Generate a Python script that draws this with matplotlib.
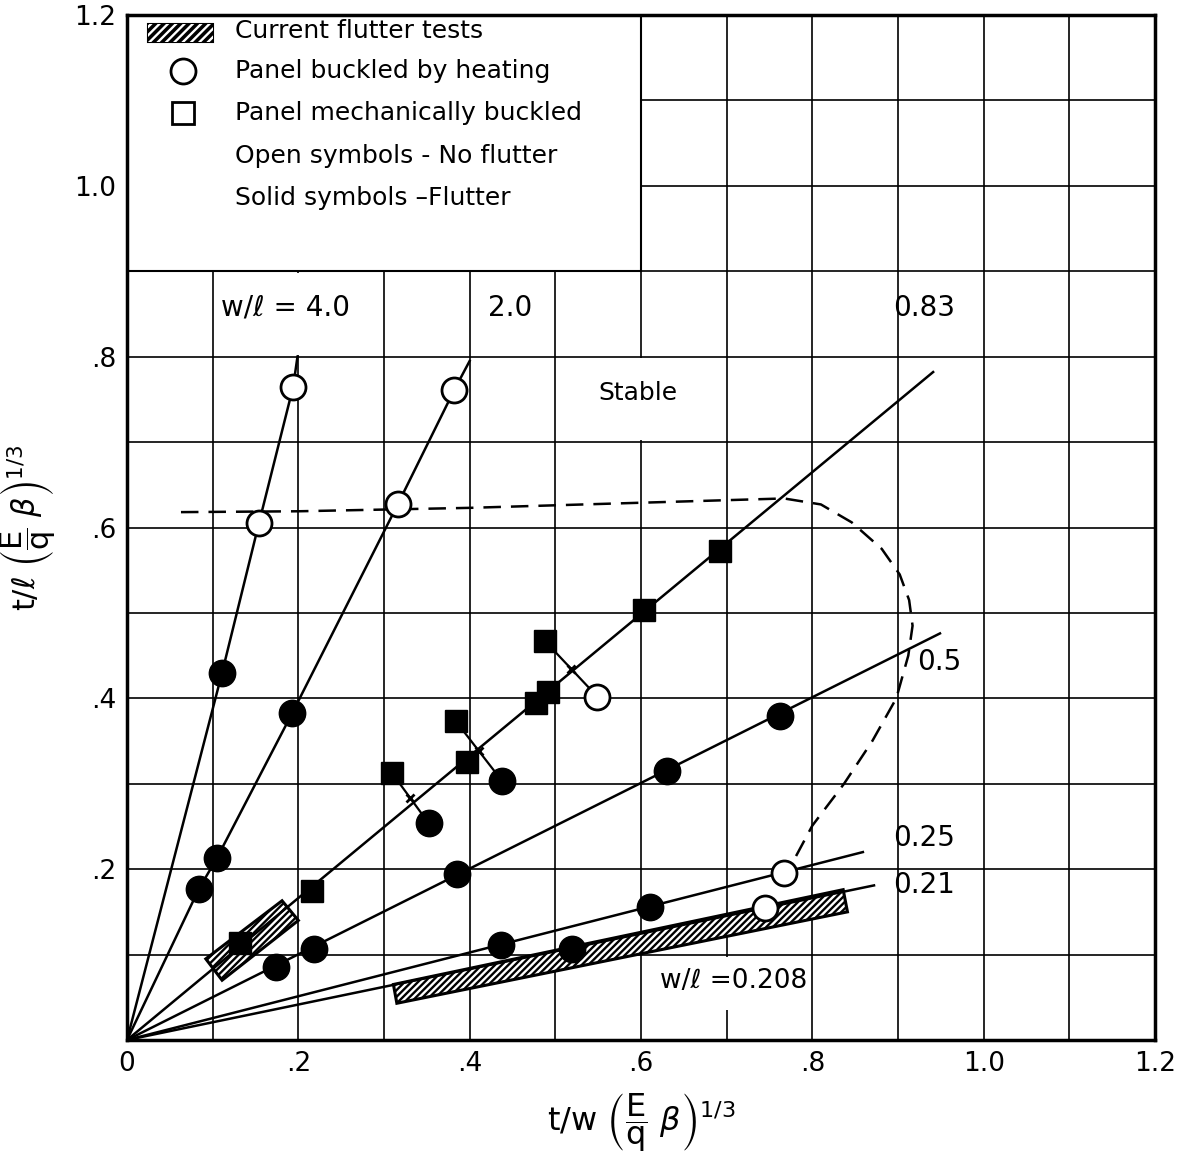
import numpy as np
import matplotlib
matplotlib.use("Agg")
import matplotlib.pyplot as plt
from matplotlib.patches import Polygon, Rectangle

plt.rcParams['font.family'] = ['DejaVu Sans']
plt.rcParams['mathtext.fontset'] = 'dejavusans'
plt.rcParams['hatch.linewidth'] = 1.7

# ---- data ----
# w/l = 4.0 and 2.0 curves (slightly curved, read as points)
curve40_x = [0.0, 0.111, 0.154, 0.194, 0.199]
curve40_y = [0.0, 0.430, 0.605, 0.765, 0.800]
curve20_x = [0.0, 0.084, 0.105, 0.193, 0.316, 0.382, 0.400]
curve20_y = [0.0, 0.177, 0.213, 0.383, 0.627, 0.761, 0.795]

# straight rays from the origin: end points
ray_names = ['0.83', '0.5', '0.25', '0.21']
ray_end_x = [0.941, 0.949, 0.859, 0.872]
ray_end_y = [0.782, 0.476, 0.220, 0.181]

# symbols
solid_circ_x = [0.111, 0.084, 0.105, 0.193, 0.174, 0.218, 0.385, 0.630, 0.762,
                0.436, 0.611, 0.520, 0.352, 0.438]
solid_circ_y = [0.430, 0.177, 0.213, 0.383, 0.086, 0.107, 0.194, 0.315, 0.379,
                0.111, 0.156, 0.106, 0.254, 0.303]
open_circ_x = [0.154, 0.194, 0.316, 0.382, 0.549, 0.767, 0.745]
open_circ_y = [0.605, 0.765, 0.627, 0.761, 0.402, 0.196, 0.155]
solid_sq_x = [0.132, 0.216, 0.397, 0.477, 0.491, 0.604, 0.692, 0.309, 0.384, 0.488]
solid_sq_y = [0.113, 0.175, 0.325, 0.395, 0.407, 0.504, 0.572, 0.313, 0.373, 0.467]

# mechanically buckled -> heated, connectors
conn_from_x = [0.309, 0.384, 0.488]
conn_from_y = [0.313, 0.373, 0.467]
conn_to_x = [0.352, 0.438, 0.549]
conn_to_y = [0.254, 0.303, 0.402]

# stability boundary (dashed)
bound_x = [0.063, 0.2, 0.3, 0.4, 0.5, 0.6, 0.7, 0.767, 0.81, 0.846, 0.881, 0.902,
           0.913, 0.917, 0.912, 0.898, 0.870, 0.837, 0.800, 0.776]
bound_y = [0.618, 0.619, 0.621, 0.623, 0.626, 0.629, 0.632, 0.634, 0.627, 0.606,
           0.575, 0.545, 0.515, 0.485, 0.450, 0.400, 0.350, 0.300, 0.251, 0.206]

# current flutter tests (hatched regions), corners
test1_x = [0.092, 0.181, 0.200, 0.111]
test1_y = [0.095, 0.163, 0.140, 0.070]
test2_x = [0.311, 0.836, 0.841, 0.315]
test2_y = [0.065, 0.176, 0.150, 0.043]

xticks = [0, 0.2, 0.4, 0.6, 0.8, 1.0, 1.2]
xtick_labels = ['0', '.2', '.4', '.6', '.8', '1.0', '1.2']
yticks = [0.2, 0.4, 0.6, 0.8, 1.0, 1.2]
ytick_labels = ['.2', '.4', '.6', '.8', '1.0', '1.2']

legend_text = ['Current flutter tests', 'Panel buckled by heating',
               'Panel mechanically buckled', 'Open symbols - No flutter',
               'Solid symbols \u2013Flutter']

# ---- figure ----
fig = plt.figure(figsize=(11.9, 11.58), dpi=100)
ax = fig.add_axes([127 / 1190, 1 - 1040 / 1158, 1028 / 1190, 1025 / 1158])
ax.set_xlim(0, 1.2)
ax.set_ylim(0, 1.2)
ax.set_axisbelow(True)
ax.set_xticks(xticks)
ax.set_xticklabels(xtick_labels)
ax.set_yticks(yticks)
ax.set_yticklabels(ytick_labels)
ax.set_xticks(np.arange(0.1, 1.2, 0.2), minor=True)
ax.set_yticks(np.arange(0.1, 1.2, 0.2), minor=True)
ax.grid(True, which='both', color='black', lw=1.2)
ax.tick_params(which='both', length=0, labelsize=19, pad=8)
for s in ax.spines.values():
    s.set_linewidth(2.5)

# white patches where the grid is blanked for text
ax.add_patch(Rectangle((0, 0.9), 0.6, 0.3, fc='white', ec='black', lw=1.5, zorder=1))
ax.add_patch(Rectangle((0.105, 0.802), 0.17, 0.096, fc='white', ec='none', zorder=1))
ax.add_patch(Rectangle((0.545, 0.702), 0.11, 0.096, fc='white', ec='none', zorder=1))
ax.add_patch(Rectangle((0.62, 0.035), 0.168, 0.062, fc='white', ec='none', zorder=1))

# hatched test regions
for px, py in [(test1_x, test1_y), (test2_x, test2_y)]:
    ax.add_patch(Polygon(np.column_stack([px, py]), closed=True, fc='white',
                         ec='black', lw=2.2, hatch='/////', zorder=1.5))

# curves and rays
lw = 1.8
ax.plot(curve40_x, curve40_y, color='black', lw=lw, zorder=2)
ax.plot(curve20_x, curve20_y, color='black', lw=lw, zorder=2)
for xe, ye in zip(ray_end_x, ray_end_y):
    ax.plot([0, xe], [0, ye], color='black', lw=lw, zorder=2)

ax.plot(bound_x, bound_y, color='black', lw=1.8, ls=(0, (7, 4)), zorder=2)

# connectors with crossing marks
for x0, y0, x1, y1 in zip(conn_from_x, conn_from_y, conn_to_x, conn_to_y):
    ax.plot([x0, x1], [y0, y1], color='black', lw=1.6, zorder=2)
    ax.plot((x0 + x1) / 2, (y0 + y1) / 2, marker='x', ms=6, mew=2,
            color='black', zorder=2.5)

ax.plot(solid_sq_x, solid_sq_y, ls='none', marker='s', ms=16, mfc='black',
        mec='black', zorder=3)
ax.plot(solid_circ_x, solid_circ_y, ls='none', marker='o', ms=19, mfc='black',
        mec='black', zorder=3)
ax.plot(open_circ_x, open_circ_y, ls='none', marker='o', ms=18, mfc='white',
        mec='black', mew=2, zorder=3)

# line labels
fs = 18
fn = 20
ax.text(0.185, 0.857, 'w/\u2113 = 4.0', fontsize=fn, ha='center', va='center', zorder=4)
ax.text(0.447, 0.857, '2.0', fontsize=fn, ha='center', va='center', zorder=4)
ax.text(0.597, 0.757, 'Stable', fontsize=fs, ha='center', va='center', zorder=4)
ax.text(0.894, 0.857, ray_names[0], fontsize=fn, ha='left', va='center', zorder=4)
ax.text(0.922, 0.442, ray_names[1], fontsize=fn, ha='left', va='center', zorder=4)
ax.text(0.894, 0.237, ray_names[2], fontsize=fn, ha='left', va='center', zorder=4)
ax.text(0.894, 0.182, ray_names[3], fontsize=fn, ha='left', va='center', zorder=4)
ax.text(0.708, 0.069, 'w/\u2113 =0.208', fontsize=19, ha='center', va='center', zorder=4)

# legend (drawn inside the blanked box)
leg_y = [1.181, 1.134, 1.085, 1.035, 0.986]
ax.add_patch(Rectangle((0.025, 1.168), 0.075, 0.021, fc='black', ec='black',
                       lw=1.5, zorder=3))
ax.add_patch(Rectangle((0.025, 1.168), 0.075, 0.021, fc='none', ec='white',
                       lw=0, hatch='////', zorder=3.5))
ax.plot(0.065, leg_y[1], marker='o', ms=18, mfc='white', mec='black', mew=2, zorder=3)
ax.plot(0.065, leg_y[2], marker='s', ms=16, mfc='white', mec='black', mew=2, zorder=3)
for t, y in zip(legend_text, leg_y):
    ax.text(0.126, y, t, fontsize=fs, ha='left', va='center', zorder=4)

ax.set_xlabel(r'$\mathrm{t/w}\ \left(\dfrac{\mathrm{E}}{\mathrm{q}}\ \beta\right)^{1/3}$',
              fontsize=23, labelpad=10)
ax.set_ylabel(r'$\mathrm{t/\ell}\ \left(\dfrac{\mathrm{E}}{\mathrm{q}}\ \beta\right)^{1/3}$',
              fontsize=22, labelpad=12)

fig.savefig('out.png', dpi=100)
